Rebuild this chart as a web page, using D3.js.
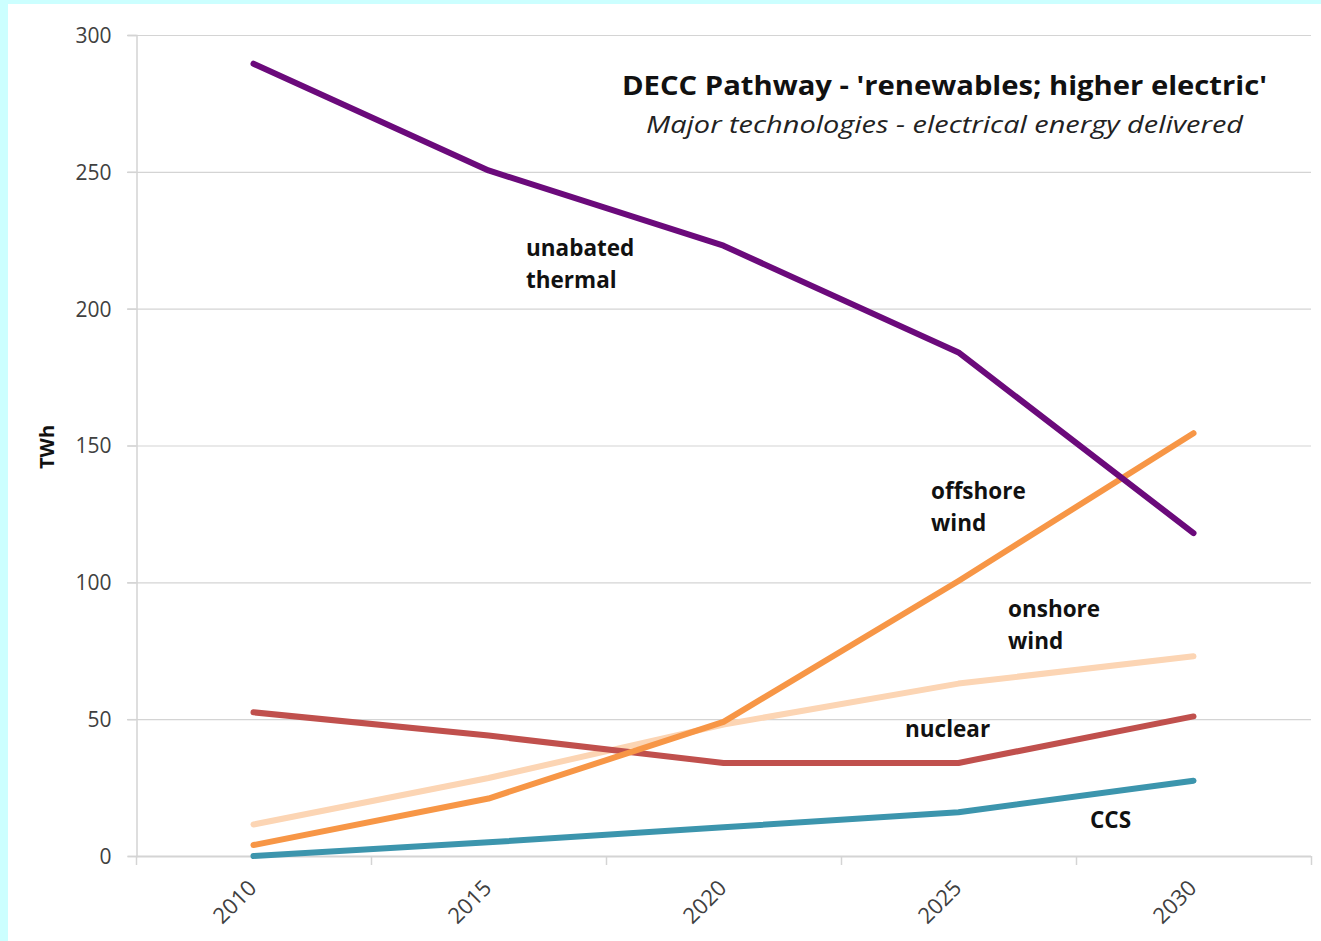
<!DOCTYPE html>
<html>
<head>
<meta charset="utf-8">
<script src="https://cdn.jsdelivr.net/npm/d3@7"></script>
<style>
  html, body { margin: 0; padding: 0; background: #ccffff; }
  svg { display: block; }
  text { font-family: "Open Sans", "DejaVu Sans", sans-serif; }
</style>
</head>
<body>
<svg id="chart" width="1321" height="941"></svg>
<script>
// data (TWh)
const years = ["2010", "2015", "2020", "2025", "2030"];
const thermal = [289.5, 250.5, 223, 184, 118];
const offshore = [4, 21, 49, 100.5, 154.5];
const onshore = [11.5, 28.5, 48, 63, 73];
const nuclear = [52.5, 44, 34, 34, 51];
const ccs = [0, 5, 10.5, 16, 27.5];
const yTicks = [0, 50, 100, 150, 200, 250, 300];

const series = [
  { name: "onshore", values: onshore, color: "#fcd5b4" },
  { name: "ccs", values: ccs, color: "#3c95ad" },
  { name: "nuclear", values: nuclear, color: "#c0504d" },
  { name: "offshore", values: offshore, color: "#f79646" },
  { name: "thermal", values: thermal, color: "#6b0a7b" }
];

const labels = [
  { lines: ["unabated", "thermal"], x: 526, y: 256 },
  { lines: ["offshore", "wind"], x: 931, y: 499 },
  { lines: ["onshore", "wind"], x: 1008, y: 617 },
  { lines: ["nuclear"], x: 905, y: 737 },
  { lines: ["CCS"], x: 1090, y: 828 }
];

const svg = d3.select("#chart");
svg.append("rect")
  .attr("x", 8).attr("y", 4)
  .attr("width", 1321 - 8).attr("height", 941 - 4)
  .attr("fill", "#fff");

let margin = { top: 35, right: 10, bottom: 85, left: 136 };
let width = 1321, height = 941;

let x = d3.scaleBand()
  .domain(years)
  .range([margin.left, width - margin.right]);

let y = d3.scaleLinear()
  .domain([0, 300])
  .range([height - margin.bottom, margin.top]);

// gridlines
svg.append("g")
  .selectAll("line")
  .data(yTicks.filter(d => d > 0))
  .join("line")
  .attr("x1", margin.left - 9)
  .attr("x2", width - margin.right)
  .attr("y1", d => y(d) + 0.5)
  .attr("y2", d => y(d) + 0.5)
  .attr("stroke", "#d4d4d4")
  .attr("stroke-width", 1.2);

// y axis
let yAxis = g => g
  .attr("transform", `translate(${margin.left + 0.5},0)`)
  .call(d3.axisLeft(y).tickValues(yTicks).tickSize(9).tickPadding(16))
  .call(g => g.selectAll("line, path").attr("stroke", "#d4d4d4").attr("stroke-width", 1.5))
  .call(g => g.selectAll("text")
    .attr("fill", "#404040")
    .attr("font-size", 21)
    .attr("dy", "0.35em"));
svg.append("g").call(yAxis);

// x axis: ticks between categories
let bounds = years.map(d => x(d)).concat([x.range()[1]]);
let xg = svg.append("g");
xg.append("line")
  .attr("x1", margin.left).attr("x2", width - margin.right)
  .attr("y1", y(0) + 0.5).attr("y2", y(0) + 0.5)
  .attr("stroke", "#d4d4d4").attr("stroke-width", 2);
xg.selectAll("line.tk")
  .data(bounds)
  .join("line")
  .attr("class", "tk")
  .attr("x1", d => d + 0.5).attr("x2", d => d + 0.5)
  .attr("y1", y(0)).attr("y2", y(0) + 9)
  .attr("stroke", "#d4d4d4").attr("stroke-width", 1.5);
xg.selectAll("text")
  .data(years)
  .join("text")
  .attr("transform", d => `translate(${x(d) + x.bandwidth() / 2 - 1},${y(0) + 28}) rotate(-45)`)
  .attr("text-anchor", "end")
  .attr("dy", "0.35em")
  .attr("fill", "#404040")
  .attr("font-size", 22)
  .text(d => d);

// y title
svg.append("text")
  .attr("transform", `translate(54,447) rotate(-90)`)
  .attr("text-anchor", "middle")
  .attr("font-size", 20)
  .attr("font-weight", "bold")
  .attr("fill", "#111")
  .text("TWh");

// lines
let line = d3.line()
  .x((d, i) => x(years[i]) + x.bandwidth() / 2)
  .y(d => y(d));

svg.append("g")
  .selectAll("path")
  .data(series)
  .join("path")
  .attr("fill", "none")
  .attr("stroke", d => d.color)
  .attr("stroke-width", 6)
  .attr("stroke-linejoin", "round")
  .attr("stroke-linecap", "round")
  .attr("d", d => line(d.values));

// titles
svg.append("text")
  .attr("x", 1267).attr("y", 95)
  .attr("text-anchor", "end")
  .attr("font-size", 27)
  .attr("font-weight", "bold")
  .attr("fill", "#111")
  .attr("textLength", 645)
  .attr("lengthAdjust", "spacingAndGlyphs")
  .text("DECC Pathway - 'renewables; higher electric'");
svg.append("text")
  .attr("x", 1243).attr("y", 133)
  .attr("text-anchor", "end")
  .attr("font-size", 24)
  .attr("font-style", "italic")
  .attr("fill", "#222")
  .attr("textLength", 597)
  .attr("lengthAdjust", "spacingAndGlyphs")
  .text("Major technologies - electrical energy delivered");

// series labels
let lg = svg.append("g");
labels.forEach(l => {
  let t = lg.append("text")
    .attr("x", l.x).attr("y", l.y)
    .attr("font-size", 22.5)
    .attr("font-weight", "bold")
    .attr("fill", "#111");
  l.lines.forEach((s, i) => {
    t.append("tspan").attr("x", l.x).attr("dy", i == 0 ? 0 : 32).text(s);
  });
});
</script>
</body>
</html>
